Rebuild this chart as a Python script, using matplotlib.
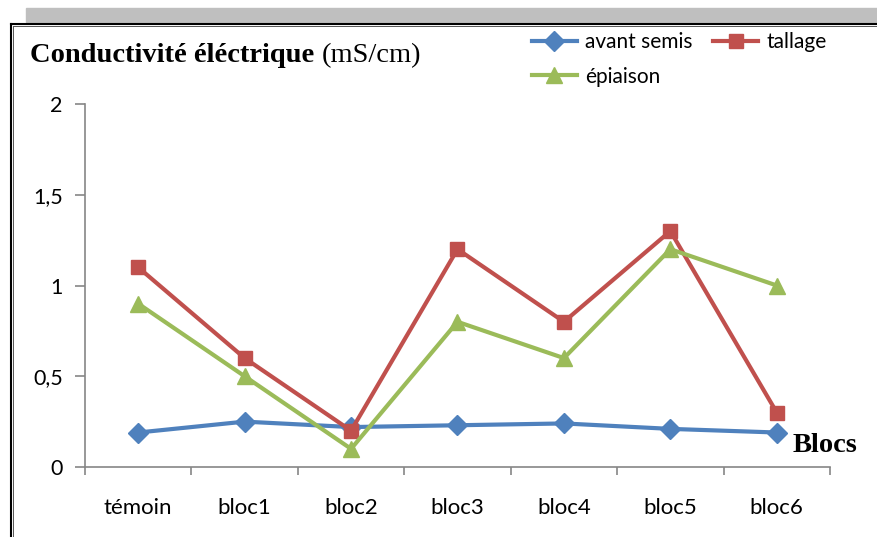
import matplotlib.pyplot as plt
from matplotlib.lines import Line2D
from matplotlib.patches import Rectangle

categories = ["témoin", "bloc1", "bloc2", "bloc3", "bloc4", "bloc5", "bloc6"]
avant_semis = [0.19, 0.25, 0.22, 0.23, 0.24, 0.21, 0.19]
tallage = [1.1, 0.6, 0.2, 1.2, 0.8, 1.3, 0.3]
epiaison = [0.9, 0.5, 0.1, 0.8, 0.6, 1.2, 1.0]
y_ticks = [0, 0.5, 1, 1.5, 2]
y_labels = ["0", "0,5", "1", "1,5", "2"]

W, H = 878, 537
blue, red, green = "#4F81BD", "#C0504D", "#9BBB59"
axis_grey = "#868686"
sans = "Lato"
serif = "Liberation Serif"

fig = plt.figure(figsize=(W / 100, H / 100), dpi=100)

# cadre : bande grise en haut, bordure noire gauche/haut
fig.patches.append(Rectangle((26 / W, 1 - 22 / H), 1 - 26 / W, 14 / H,
                             transform=fig.transFigure, color="#BFBFBF", zorder=0))
fig.add_artist(Line2D([11 / W, 1], [1 - 23.5 / H] * 2, color="black", lw=1.5))
fig.add_artist(Line2D([13 / W, 1], [1 - 25.5 / H] * 2, color="#555555", lw=0.7))
fig.add_artist(Line2D([11 / W] * 2, [0, 1 - 23.5 / H], color="black", lw=1.5))
fig.add_artist(Line2D([13.5 / W] * 2, [0, 1 - 25.5 / H], color="#555555", lw=0.7))

ax = fig.add_axes([85 / W, 1 - 467 / H, (830 - 85) / W, (467 - 104) / H])
x = range(len(categories))

ax.plot(x, avant_semis, color=blue, lw=3, marker="D", ms=10.5, label="avant semis",
        solid_joinstyle="round")
ax.plot(x, tallage, color=red, lw=3, marker="s", ms=10.5, label="tallage",
        solid_joinstyle="round")
ax.plot(x, epiaison, color=green, lw=3, marker="^", ms=12, label="épiaison",
        solid_joinstyle="round")

ax.set_xlim(-0.5, len(categories) - 0.5)
ax.set_ylim(0, 2)
ax.set_yticks(y_ticks)
ax.set_yticklabels(y_labels, fontfamily=sans, fontsize=15.5)
ax.set_xticks(list(x))
ax.set_xticklabels(categories, fontfamily=sans, fontsize=16)
ax.set_xticks([i - 0.5 for i in range(len(categories) + 1)], minor=True)
ax.tick_params(axis="x", which="major", length=0, pad=22)
ax.tick_params(axis="x", which="minor", length=6, color=axis_grey, width=1.2)
ax.tick_params(axis="y", length=7, color=axis_grey, width=1.2, pad=9)
for s in ["top", "right"]:
    ax.spines[s].set_visible(False)
for s in ["left", "bottom"]:
    ax.spines[s].set_color(axis_grey)
    ax.spines[s].set_linewidth(1.2)

h, l = ax.get_legend_handles_labels()
order = [0, 2, 1]
fig.legend([h[i] for i in order], [l[i] for i in order], loc="upper left",
           bbox_to_anchor=(532 / W, 1 - 32 / H), ncol=2, frameon=False,
           prop={"family": sans, "size": 15}, handlelength=2.15,
           handletextpad=0.4, columnspacing=1.0, labelspacing=0.7,
           borderpad=0, borderaxespad=0)

fig.text(30 / W, 1 - 62 / H, "Conductivité éléctrique", fontfamily=serif,
         fontweight="bold", fontsize=20.5, va="baseline")
fig.text(322 / W, 1 - 62 / H, "(mS/cm)", fontfamily=serif, fontsize=20.5,
         va="baseline")
fig.text(793 / W, 1 - 452 / H, "Blocs", fontfamily=serif, fontweight="bold",
         fontsize=20.5, va="baseline")

fig.savefig("out.png", dpi=100)
